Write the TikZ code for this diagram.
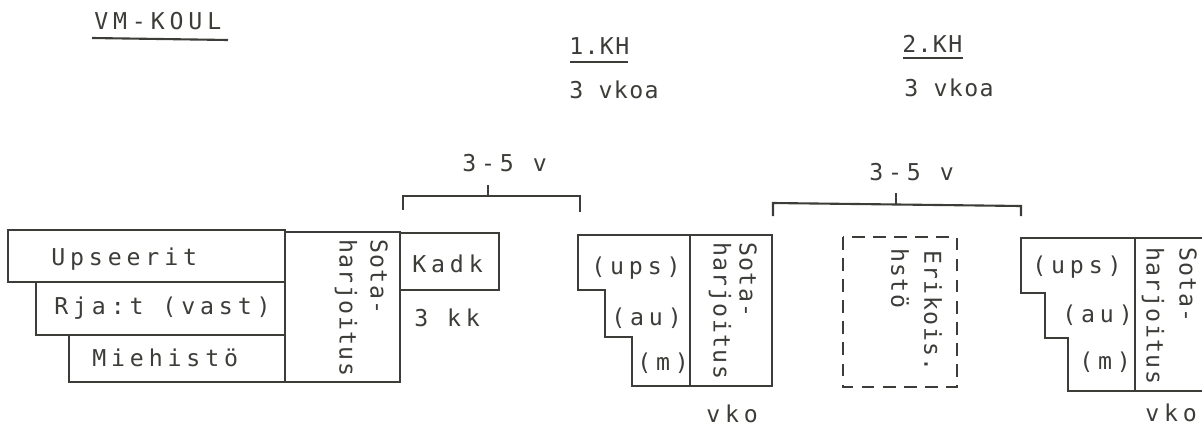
\documentclass[tikz,border=0pt]{standalone}
\usepackage{fontspec}
\newfontfamily\tw{DejaVu Sans Mono}[LetterSpace=21]
\newfontfamily\twn{DejaVu Sans Mono}[LetterSpace=6]
\definecolor{Ink}{HTML}{3C3C38}
\tikzset{
  wide/.style={font=\tw\fontsize{16.5}{19}\selectfont, text=Ink, inner sep=0pt, anchor=west},
  narrow/.style={font=\twn\fontsize{16.5}{19}\selectfont, text=Ink, inner sep=0pt, anchor=west},
  down/.style={narrow, rotate=-90},
  box/.style={draw=Ink, line width=1.5pt},
  dashbox/.style={box, dash pattern=on 9pt off 6pt},
}

\begin{document}
\begin{tikzpicture}[x=0.025cm, y=-0.025cm]
  \path[use as bounding box] (0,0) rectangle (1202,428);
  \clip (0,0) rectangle (1202,428);

  % headings
  \node[wide] (vmkoul) at (94,21) {VM-KOUL};
  \draw[box] (92,38) -- (228,40);
  \node[narrow] (kh1) at (569,46) {1.KH};
  \draw[box] (570,62) -- (628,62);
  \node[narrow] (vkoa1) at (569,90) {3 vkoa};
  \node[narrow] (kh2) at (902,44) {2.KH};
  \draw[box] (903,58) -- (963,58);
  \node[narrow] (vkoa2) at (904,88) {3 vkoa};

  % basic training
  \draw[box] (8,230) rectangle (285,282);
  \draw[box] (36,282) rectangle (285,335);
  \draw[box] (69,335) rectangle (285,382);
  \draw[box] (285,232) rectangle (400,382);
  \draw[box] (400,233) rectangle (499,290);
  \node[wide] (upseerit) at (51,259) {Upseerit};
  \node[wide] (rjat) at (54,308) {Rja:t (vast)};
  \node[wide] (miehisto) at (92,358) {Miehistö};
  \node[down] (sota1) at (379,239) {Sota-};
  \node[down] (harj1) at (346,239) {harjoitus};
  \node[wide] (kadk) at (412,264) {Kadk};
  \node[wide] (kk) at (414,318) {3 kk};

  % first gap
  \node[wide] (gap1) at (462,163) {3-5 v};
  \draw[box] (403,210) -- (403,196) -- (580,196) -- (580,212);
  \draw[box] (488,185) -- (488,196);

  % 1. KH
  \draw[box] (578,235) -- (772,235) -- (772,386) -- (632,386) -- (632,337)
    -- (605,337) -- (605,290) -- (578,290) -- cycle;
  \draw[box] (690,235) -- (690,386);
  \node[wide] (ups1) at (591,268) {(ups)};
  \node[wide] (au1) at (611,318) {(au)};
  \node[wide] (m1) at (637,363) {(m)};
  \node[down] (sota2) at (748,242) {Sota-};
  \node[down] (harj2) at (720,242) {harjoitus};
  \node[wide] (vko1) at (706,414) {vko};

  % second gap
  \node[wide] (gap2) at (869,172) {3-5 v};
  \draw[box] (773,216) -- (773,203) -- (1021,206) -- (1021,216);
  \draw[box] (896,193) -- (896,204);
  \draw[dashbox] (843,237) rectangle (957,387);
  \node[down] (erik) at (933,250) {Erikois.};
  \node[down] (hsto) at (900,248) {hstö};

  % 2. KH
  \draw[box] (1210,238) -- (1021,238) -- (1021,293) -- (1045,293) -- (1045,338)
    -- (1068,338) -- (1068,391) -- (1210,391);
  \draw[box] (1135,238) -- (1135,391);
  \node[wide] (ups2) at (1032,267) {(ups)};
  \node[wide] (au2) at (1062,315) {(au)};
  \node[wide] (m2) at (1079,362) {(m)};
  \node[down] (sota3) at (1188,247) {Sota-};
  \node[down] (harj3) at (1153,247) {harjoitus};
  \node[wide] (vko2) at (1145,413) {vko};
\end{tikzpicture}
\end{document}
